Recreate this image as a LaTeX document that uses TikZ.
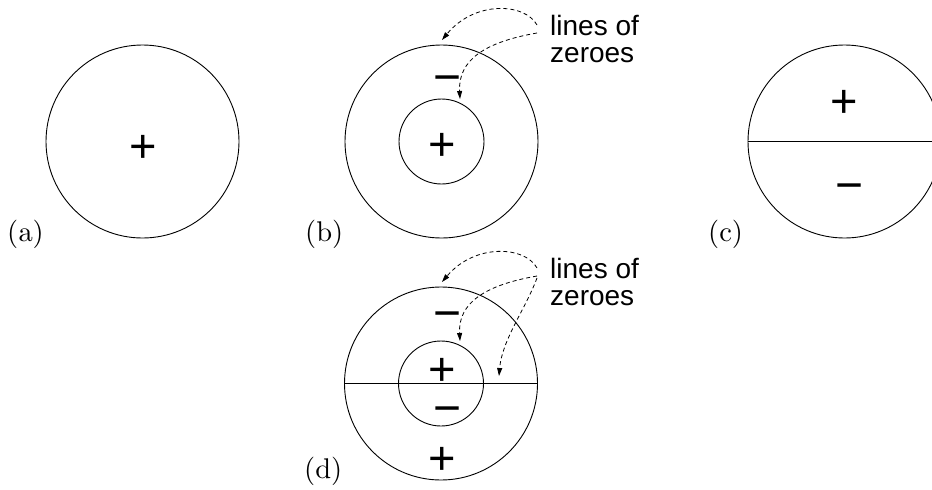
\documentclass[tikz,border=0pt]{standalone}
\usepackage{fontspec}
\newfontfamily\labfont{Liberation Sans}
\font\tagfnt=cmr10 at 28.5pt
\usetikzlibrary{arrows.meta}
\begin{document}
\begin{tikzpicture}[x=1pt,y=-1pt,
  ring/.style={draw, circle, line width=0.9pt, inner sep=0pt, outer sep=0pt},
  bigring/.style={ring, minimum size=193pt},
  smallring/.style={ring, minimum size=85pt},
  plussign/.style={inner sep=0pt, anchor=base, yshift=-16.6pt, font=\labfont\fontsize{47}{47}\selectfont},
  minussign/.style={inner sep=0pt, anchor=base, yshift=-16.9pt, font=\labfont\fontsize{48}{48}\selectfont},
  tag/.style={inner sep=0pt, anchor=base west, font=\tagfnt},
  note/.style={inner sep=0pt, anchor=north west, align=left, font=\labfont\fontsize{28}{27}\selectfont},
  zeroarrow/.style={dash pattern=on 4pt off 3pt, line width=0.8pt, -{Triangle[length=8pt,width=5pt]}},
  plainline/.style={line width=0.9pt}]
\useasboundingbox (0,0) rectangle (932,490);
\clip (0,0) rectangle (932,490);

% (a)
\node[bigring] (A) at (142.5,141.5) {};
\node[plussign] (Ap) at (143,146) {\smash{+}};
\node[tag] (la) at (7,241) {(a)};

% (b)
\node[bigring] (B) at (441.5,141.5) {};
\node[smallring] (Bi) at (441.5,141.5) {};
\node[minussign] (Bm) at (448,77) {\smash{−}};
\node[plussign] (Bp) at (442,144) {\smash{+}};
\node[tag] (lb) at (305,241) {(b)};
\node[note] (nb) at (550,15) {lines of\\zeroes};
\coordinate (b1s) at (537,25);
\coordinate (b2s) at (537,33);
\coordinate (b1e) at (442,40);
\coordinate (b2e) at (460,99);
\draw[zeroarrow] (b1s) .. controls (525,3) and (475,0) .. (b1e);
\draw[zeroarrow] (b2s) .. controls (485,42) and (458,60) .. (b2e);

% (c)
\node[bigring] (C) at (844.5,141.5) {};
\draw[plainline] (C.west) -- (C.east);
\node[plussign] (Cp) at (844,101) {\smash{+}};
\node[minussign] (Cm) at (850,185) {\smash{−}};
\node[tag] (lc) at (708,241) {(c)};

% (d)
\node[bigring] (D) at (441,383.5) {};
\node[smallring] (Di) at (441,383.5) {};
\draw[plainline] (D.west) -- (D.east);
\node[minussign] (Dm1) at (447.5,313) {\smash{−}};
\node[plussign] (Dp1) at (442,369) {\smash{+}};
\node[minussign] (Dm2) at (447.5,408) {\smash{−}};
\node[plussign] (Dp2) at (442,458) {\smash{+}};
\node[tag] (ld) at (304,478) {(d)};
\node[note] (nd) at (550,258) {lines of\\zeroes};
\coordinate (d1s) at (537,268);
\coordinate (d2s) at (537,276);
\coordinate (d3s) at (537,278);
\coordinate (d1e) at (442,282);
\coordinate (d2e) at (460,341);
\coordinate (d3e) at (499,376);
\draw[zeroarrow] (d1s) .. controls (525,246) and (475,243) .. (d1e);
\draw[zeroarrow] (d2s) .. controls (485,285) and (458,303) .. (d2e);
\draw[zeroarrow] (d3s) .. controls (525,310) and (502,340) .. (d3e);
\end{tikzpicture}
\end{document}
